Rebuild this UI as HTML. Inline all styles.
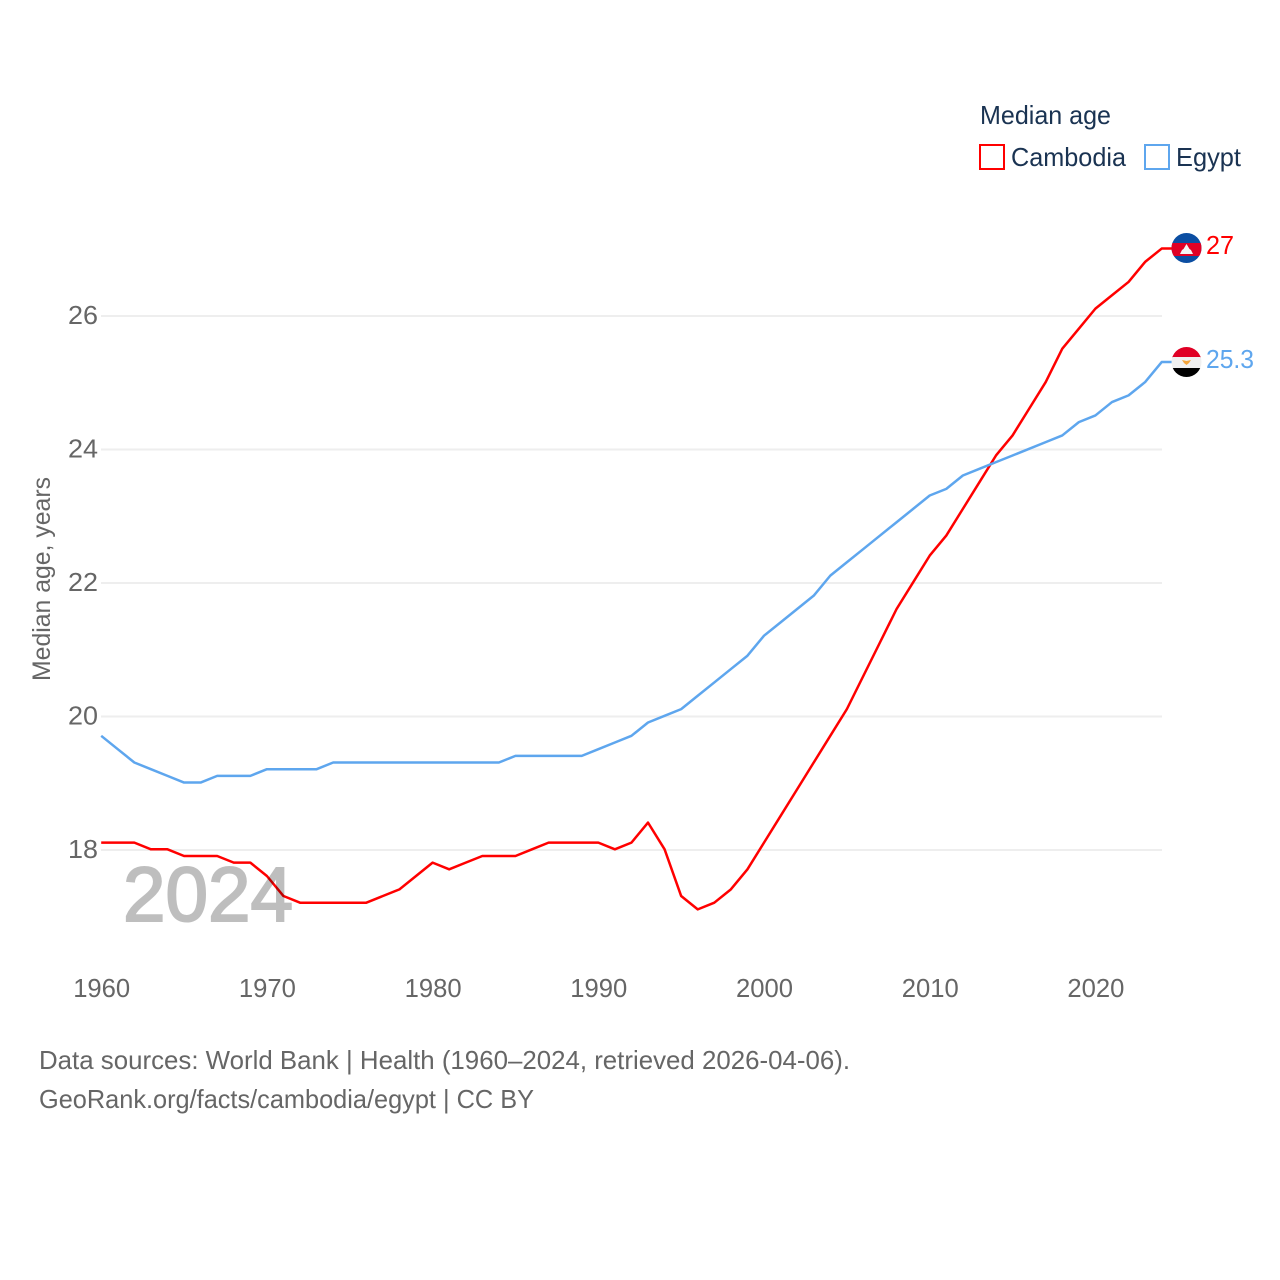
<!DOCTYPE html>
<html lang="en">
<head>
<meta charset="utf-8">
<title>Median age: Cambodia and Egypt</title>
<style>
html,body{margin:0;padding:0;background:#fff;width:1280px;height:1280px;overflow:hidden}
svg{display:block}
text{font-family:"Liberation Sans",sans-serif}
</style>
</head>
<body>
<svg id="chart" xmlns="http://www.w3.org/2000/svg" width="1280" height="1280" viewBox="0 0 1280 1280">
  <defs>
    <clipPath id="flag-clip-top"><circle cx="1186.500" cy="248" r="15"/></clipPath>
    <clipPath id="flag-clip-bottom"><circle cx="1186.500" cy="362" r="15"/></clipPath>
  </defs>
  <g id="grid"></g>
  <g id="y-ticks"></g>
  <g id="x-ticks"></g>
  <text transform="translate(50,681) rotate(-90)" font-size="25" fill="#666666" textLength="204" lengthAdjust="spacingAndGlyphs">Median age, years</text>
  <g id="series"></g>
  <text x="123" y="921" font-size="77" font-weight="400" fill="#000000" stroke="#000000" stroke-width="2" opacity="0.25" textLength="170" lengthAdjust="spacingAndGlyphs">2024</text>

  <g clip-path="url(#flag-clip-top)">
    <rect x="1171" y="233" width="31" height="31" fill="#0b4ea2"/>
    <rect x="1171" y="243" width="31" height="13" fill="#e00025"/>
    <polygon points="1180,254 1193,254 1191,250 1189.500,249 1186.500,244 1183.500,249 1182,250" fill="#f4f4f4"/>
  </g>
  <g clip-path="url(#flag-clip-bottom)">
    <rect x="1171" y="346" width="31" height="12" fill="#e00025"/>
    <rect x="1171" y="357" width="31" height="11.500" fill="#f0f0f0"/>
    <rect x="1171" y="368" width="31" height="10" fill="#000000"/>
    <polygon points="1182,360 1186.500,361 1191,360 1189,363 1186.500,365 1184,363" fill="#f2a33a"/>
  </g>
  <text x="1206" y="254" font-size="26" fill="#ff0000" textLength="28" lengthAdjust="spacingAndGlyphs">27</text>
  <text x="1206" y="368" font-size="26" fill="#5ea6ee" textLength="48" lengthAdjust="spacingAndGlyphs">25.3</text>

  <g>
    <text x="980" y="124" font-size="26" fill="#1a3352" textLength="131" lengthAdjust="spacingAndGlyphs">Median age</text>
    <rect x="980" y="145" width="24" height="24" fill="#ffffff" stroke="#ff0000" stroke-width="2"/>
    <text x="1011" y="166" font-size="26" fill="#1a3352" textLength="115" lengthAdjust="spacingAndGlyphs">Cambodia</text>
    <rect x="1145" y="145" width="24" height="24" fill="#ffffff" stroke="#5ea6ee" stroke-width="2"/>
    <text x="1176" y="166" font-size="26" fill="#1a3352" textLength="65" lengthAdjust="spacingAndGlyphs">Egypt</text>
  </g>

  <text x="39" y="1069" font-size="26" fill="#666666" textLength="811" lengthAdjust="spacingAndGlyphs">Data sources: World Bank | Health (1960–2024, retrieved 2026-04-06).</text>
  <text x="39" y="1108" font-size="26" fill="#666666" textLength="495" lengthAdjust="spacingAndGlyphs">GeoRank.org/facts/cambodia/egypt | CC BY</text>
</svg>
<script>
const startYear = 1960;
const xTickLabels = [1960, 1970, 1980, 1990, 2000, 2010, 2020];
const yTickLabels = [18, 20, 22, 24, 26];
const cambodiaValues = [18.1,18.1,18.1,18.0,18.0,17.9,17.9,17.9,17.8,17.8,17.6,17.3,17.2,17.2,17.2,17.2,17.2,17.3,17.4,17.6,17.8,17.7,17.8,17.9,17.9,17.9,18.0,18.1,18.1,18.1,18.1,18.0,18.1,18.4,18.0,17.3,17.1,17.2,17.4,17.7,18.1,18.5,18.9,19.3,19.7,20.1,20.6,21.1,21.6,22.0,22.4,22.7,23.1,23.5,23.9,24.2,24.6,25.0,25.5,25.8,26.1,26.3,26.5,26.8,27.0];
const egyptValues = [19.7,19.5,19.3,19.2,19.1,19.0,19.0,19.1,19.1,19.1,19.2,19.2,19.2,19.2,19.3,19.3,19.3,19.3,19.3,19.3,19.3,19.3,19.3,19.3,19.3,19.4,19.4,19.4,19.4,19.4,19.5,19.6,19.7,19.9,20.0,20.1,20.3,20.5,20.7,20.9,21.2,21.4,21.6,21.8,22.1,22.3,22.5,22.7,22.9,23.1,23.3,23.4,23.6,23.7,23.8,23.9,24.0,24.1,24.2,24.4,24.5,24.7,24.8,25.0,25.3];

const NS = 'http://www.w3.org/2000/svg';
function xScale(year) { return 101.2 + (year - 1960) * (1161.7 - 101.2) / 64; }
function yScale(value) { return 316 + (26 - value) * 66.75; }
const lineLift = 0.7;

const gridGroup = document.getElementById('grid');
const yTickGroup = document.getElementById('y-ticks');
const xTickGroup = document.getElementById('x-ticks');
const seriesGroup = document.getElementById('series');

yTickLabels.forEach(function (tick) {
  const gridLine = document.createElementNS(NS, 'line');
  
  
  gridLine.setAttribute('x1', 101);
  gridLine.setAttribute('x2', 1162);
  gridLine.setAttribute('y1', yScale(tick));
  gridLine.setAttribute('y2', yScale(tick));
  gridLine.setAttribute('stroke', '#eeeeee');
  gridLine.setAttribute('stroke-width', 2);
  gridGroup.appendChild(gridLine);

  const label = document.createElementNS(NS, 'text');
  
  
  label.setAttribute('x', 98);
  label.setAttribute('y', yScale(tick) + 8);
  label.setAttribute('text-anchor', 'end');
  label.setAttribute('font-size', 26);
  label.setAttribute('fill', '#666666');
  label.setAttribute('textLength', 30);
  label.setAttribute('lengthAdjust', 'spacingAndGlyphs');
  label.textContent = tick;
  yTickGroup.appendChild(label);
});

xTickLabels.forEach(function (tick) {
  const label = document.createElementNS(NS, 'text');
  
  
  label.setAttribute('x', xScale(tick) - 28);
  label.setAttribute('y', 997);
  label.setAttribute('font-size', 26);
  label.setAttribute('fill', '#666666');
  label.setAttribute('textLength', 57);
  label.setAttribute('lengthAdjust', 'spacingAndGlyphs');
  label.textContent = tick;
  xTickGroup.appendChild(label);
});

function linePoints(values) {
  const pts = values.map(function (v, i) { return xScale(startYear + i) + ',' + (yScale(v) - lineLift); });
  pts.push('1172,' + (yScale(values[values.length - 1]) - lineLift));
  return pts.join(' ');
}

const cambodiaLine = document.createElementNS(NS, 'polyline');


cambodiaLine.setAttribute('points', linePoints(cambodiaValues));
cambodiaLine.setAttribute('fill', 'none');
cambodiaLine.setAttribute('stroke', '#ff0000');
cambodiaLine.setAttribute('stroke-width', 2.5);
cambodiaLine.setAttribute('stroke-linejoin', 'round');
seriesGroup.appendChild(cambodiaLine);

const egyptLine = document.createElementNS(NS, 'polyline');


egyptLine.setAttribute('points', linePoints(egyptValues));
egyptLine.setAttribute('fill', 'none');
egyptLine.setAttribute('stroke', '#5ea6ee');
egyptLine.setAttribute('stroke-width', 2.5);
egyptLine.setAttribute('stroke-linejoin', 'round');
seriesGroup.appendChild(egyptLine);
</script>
</body>
</html>
